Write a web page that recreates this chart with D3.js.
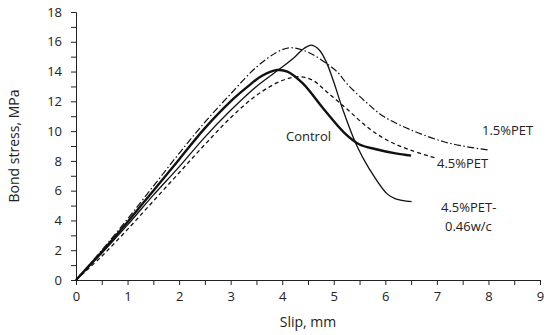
<!DOCTYPE html>
<html>
<head>
<meta charset="utf-8">
<script src="https://cdn.jsdelivr.net/npm/d3@7"></script>
<style>
  body { margin: 0; background: #fff; }
  text { font-family: "Open Sans", "Liberation Sans", sans-serif; fill: #222; }
</style>
</head>
<body>
<div id="chart"></div>
<script>
// Data: slip (mm) and bond stress (MPa)
const controlSlip = [0, 0.5, 1, 1.5, 2, 2.5, 3, 3.3, 3.6, 3.9, 4.1, 4.4, 4.8, 5.2, 5.5, 5.8, 6.2, 6.5];
const controlStress = [0, 1.9, 3.9, 6.0, 8.1, 10.2, 12.0, 12.9, 13.7, 14.1, 14.0, 13.2, 11.5, 9.9, 9.1, 8.8, 8.5, 8.35];

const pet15Slip = [0, 0.5, 1, 1.5, 2, 2.5, 3, 3.5, 3.9, 4.15, 4.5, 5.06, 5.25, 5.64, 5.96, 6.48, 7.12, 7.58, 8.0];
const pet15Stress = [0, 2.0, 4.1, 6.3, 8.5, 10.6, 12.5, 14.3, 15.3, 15.6, 15.3, 14.0, 13.2, 11.9, 11.0, 10.1, 9.3, 8.95, 8.73];

const pet45Slip = [0, 0.5, 1, 1.5, 2, 2.5, 3, 3.5, 4.0, 4.34, 4.6, 4.86, 5.25, 5.64, 6.03, 6.48, 7.0];
const pet45Stress = [0, 1.6, 3.4, 5.3, 7.2, 9.1, 10.9, 12.4, 13.4, 13.65, 13.4, 12.65, 11.5, 10.3, 9.4, 8.73, 8.17];

const pet45wcSlip = [0, 0.5, 1, 1.5, 2, 2.5, 3, 3.5, 4.0, 4.25, 4.42, 4.57, 4.72, 4.86, 4.99, 5.18, 5.44, 5.7, 6.03, 6.2, 6.51];
const pet45wcStress = [0, 1.8, 3.7, 5.7, 7.6, 9.6, 11.4, 13.0, 14.3, 15.0, 15.55, 15.78, 15.45, 14.6, 13.4, 11.4, 9.07, 7.4, 5.8, 5.45, 5.26];

const xTicks = [0, 1, 2, 3, 4, 5, 6, 7, 8, 9];
const yTicks = [0, 2, 4, 6, 8, 10, 12, 14, 16, 18];

const width = 550, height = 335;
const margin = { top: 12, right: 10, bottom: 55, left: 76 };

const svg = d3.select('#chart')
  .append('svg')
  .attr('width', width)
  .attr('height', height);

const x = d3.scaleLinear().domain([0, 9]).range([margin.left, width - margin.right]);
const y = d3.scaleLinear().domain([0, 18]).range([height - margin.bottom, margin.top]);

// y axis with minor ticks
svg.append('g')
  .attr('transform', `translate(${margin.left},0)`)
  .call(d3.axisLeft(y).tickValues(d3.range(0, 19, 1)).tickSize(5).tickFormat(''))
  .call(g => g.select('.domain').attr('stroke', '#222'))
  .call(g => g.selectAll('line').attr('stroke', '#222'));

svg.append('g')
  .attr('transform', `translate(${margin.left},0)`)
  .call(d3.axisLeft(y).tickValues(yTicks).tickSize(0).tickPadding(14))
  .call(g => g.select('.domain').remove())
  .call(g => g.selectAll('text').attr('font-size', 13).style('font-family', '"Open Sans", sans-serif'));

// x axis
svg.append('g')
  .attr('transform', `translate(0,${y(0)})`)
  .call(d3.axisBottom(x).tickValues(d3.range(0, 9.01, 0.5)).tickSize(5).tickFormat(''))
  .call(g => g.select('.domain').attr('stroke', '#222'))
  .call(g => g.selectAll('line').attr('stroke', '#222'));

svg.append('g')
  .attr('transform', `translate(0,${y(0)})`)
  .call(d3.axisBottom(x).tickValues(xTicks).tickSize(0).tickPadding(12))
  .call(g => g.select('.domain').remove())
  .call(g => g.selectAll('text').attr('font-size', 13).style('font-family', '"Open Sans", sans-serif'));

// axis titles
svg.append('text')
  .attr('x', (x(0) + x(9)) / 2)
  .attr('y', 327)
  .attr('text-anchor', 'middle')
  .attr('font-size', 14)
  .text('Slip, mm');

svg.append('text')
  .attr('transform', `translate(19,${(y(0) + y(18)) / 2}) rotate(-90)`)
  .attr('text-anchor', 'middle')
  .attr('font-size', 14)
  .text('Bond stress, MPa');

// curves
const series = [
  { xs: pet45Slip, ys: pet45Stress, w: 1.3, dash: '4,3' },
  { xs: pet15Slip, ys: pet15Stress, w: 1.2, dash: '7,2.5,1.5,2.5' },
  { xs: pet45wcSlip, ys: pet45wcStress, w: 1.3, dash: null },
  { xs: controlSlip, ys: controlStress, w: 2.4, dash: null }
];

const line = d3.line()
  .x(d => x(d[0]))
  .y(d => y(d[1]))
  .curve(d3.curveCatmullRom.alpha(0.5));

series.forEach(s => {
  svg.append('path')
    .datum(s.xs.map((v, i) => [v, s.ys[i]]))
    .attr('fill', 'none')
    .attr('stroke', '#111')
    .attr('stroke-width', s.w)
    .attr('stroke-dasharray', s.dash)
    .attr('d', line);
});

// curve labels
const labels = [
  { t: 'Control', x: 286, y: 141 },
  { t: '1.5%PET', x: 482, y: 135 },
  { t: '4.5%PET', x: 437, y: 168 },
  { t: '4.5%PET-', x: 441, y: 212 },
  { t: '0.46w/c', x: 445, y: 231 }
];
svg.selectAll('.lbl')
  .data(labels)
  .enter()
  .append('text')
  .attr('class', 'lbl')
  .attr('x', d => d.x)
  .attr('y', d => d.y)
  .attr('font-size', 13)
  .text(d => d.t);
</script>
</body>
</html>
